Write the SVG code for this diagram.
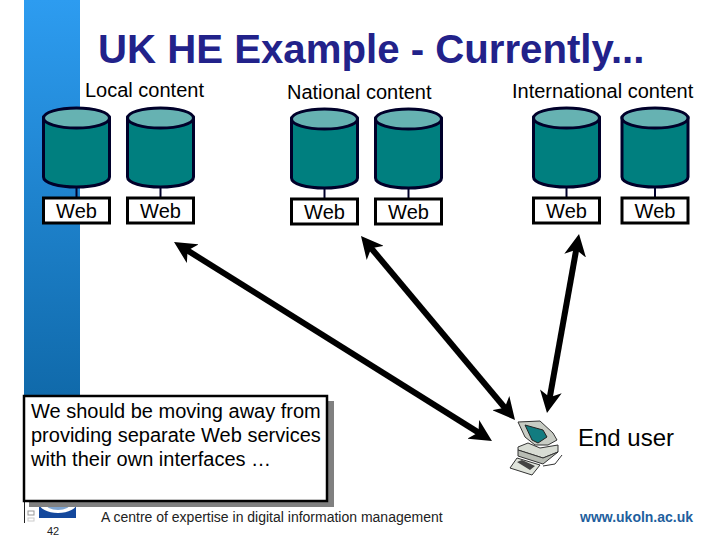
<svg xmlns="http://www.w3.org/2000/svg" width="720" height="540" viewBox="0 0 720 540">
<style>
text{font-family:"Liberation Sans",Arial,sans-serif;fill:#000}
.t{font-size:20px}
.w{font-size:20px;text-anchor:middle}
.title{font-size:40.200px;font-weight:bold;fill:#22228a}
.body{fill:#007f7f;stroke:#00002a;stroke-width:3}
.top{fill:#66b2b2;stroke:#00002a;stroke-width:3}
.box{fill:#fff;stroke:#000;stroke-width:3}
.stem{stroke:#00002a;stroke-width:2;fill:none}
.conn{stroke:#000;stroke-width:6;fill:none;marker-start:url(#ah);marker-end:url(#ah)}
</style>
<defs>
<linearGradient id="band" x1="0" y1="0" x2="0" y2="1"><stop offset="0" stop-color="#2d9cf0"/><stop offset="1" stop-color="#0f68a8"/></linearGradient>
<marker id="ah" viewBox="0 0 22 22" refX="10" refY="11" markerWidth="22" markerHeight="22" markerUnits="userSpaceOnUse" orient="auto-start-reverse"><path d="M22 11L0 0L6 11L0 22Z" fill="#000"/></marker>
<g id="cyl">
<path class="body" d="M-33 -69V-10C-33 -4 -18 0 0 0S33 -4 33 -10V-69Z"/>
<ellipse class="top" cx="0" cy="-69" rx="33" ry="10"/>
<path class="stem" d="M0 0V11"/>
<rect class="box" x="-33" y="11" width="66" height="25"/>
</g>
</defs>
<rect width="720" height="540" fill="#fff"/>
<rect x="24" y="0" width="56" height="410" fill="url(#band)"/>
<text class="title" x="98" y="63">UK HE Example - Currently...</text>
<text class="t" x="85" y="97">Local content</text>
<text class="t" x="287" y="99">National content</text>
<text class="t" x="512" y="98">International content</text>
<g id="node-local-1"><use href="#cyl" x="76.500" y="187"/><text class="w" x="76.500" y="218">Web</text></g>
<g id="node-local-2"><use href="#cyl" x="160.500" y="187"/><text class="w" x="160.500" y="218">Web</text></g>
<g id="node-national-1"><use href="#cyl" x="324.500" y="188"/><text class="w" x="324.500" y="219">Web</text></g>
<g id="node-national-2"><use href="#cyl" x="408.500" y="188"/><text class="w" x="408.500" y="219">Web</text></g>
<g id="node-intl-1"><use href="#cyl" x="566.500" y="187"/><text class="w" x="566.500" y="218">Web</text></g>
<g id="node-intl-2"><use href="#cyl" x="655" y="187"/><text class="w" x="655" y="218">Web</text></g>
<g id="connectors">
<path class="conn" d="M184.200 248.400L481.800 434.600"/>
<path class="conn" d="M368.700 245.200L507.300 410.800"/>
<path class="conn" d="M576.900 245.800L549.100 401.200"/>
</g>
<g id="logo">
<path d="M24.500 501V523" stroke="#222" stroke-width="1"/>
<rect x="28" y="511" width="6" height="4" fill="none" stroke="#999"/>
<rect x="28" y="518" width="6" height="3" fill="none" stroke="#ccc"/>
<rect x="39" y="495" width="37" height="23" fill="#14489c"/>
<ellipse cx="58" cy="503" rx="19" ry="10" fill="#fff"/>
<ellipse cx="58" cy="503" rx="13" ry="7" fill="#7ea4d0"/>
</g>
<g id="note">
<rect x="29" y="401" width="305" height="106" fill="#808080"/>
<rect x="24" y="396" width="303" height="105" fill="#fff" stroke="#000" stroke-width="2.500"/>
<text class="t" x="31" y="418">We should be moving away from</text>
<text class="t" x="31" y="442">providing separate Web services</text>
<text class="t" x="31" y="466">with their own interfaces …</text>
</g>
<g id="node-end-user">
<path d="M518 447L528 443L540 448L558 445L558 452L543 458L518 450Z" fill="#d8dcd4" stroke="#333"/>
<path d="M518 456L543 464L558 452L543 458L518 450Z" fill="#b8bcb4" stroke="#333"/>
<path d="M518 422L540 421L553 433L557 440L548 445L535 445L525 437Z" fill="#c8ccc4" stroke="#333"/>
<path d="M525 425L543 430L547 437L538 443L532 440Z" fill="#127c80" stroke="#222"/>
<path d="M510 468L517 458L540 465L532 475Z" fill="#e0e4dc" stroke="#333"/>
<path d="M517 462L522 460L535 466L530 470Z" fill="#444"/>
<path d="M543 466L555 464L562 455" fill="none" stroke="#333"/>
<text x="578" y="446" font-size="24">End user</text>
</g>
<text x="101" y="522" font-size="14" style="fill:#222">A centre of expertise in digital information management</text>
<text x="47" y="535" font-size="11" style="fill:#222">42</text>
<text x="580" y="522" font-size="14" font-weight="bold" style="fill:#1f5f9e">www.ukoln.ac.uk</text>
</svg>
